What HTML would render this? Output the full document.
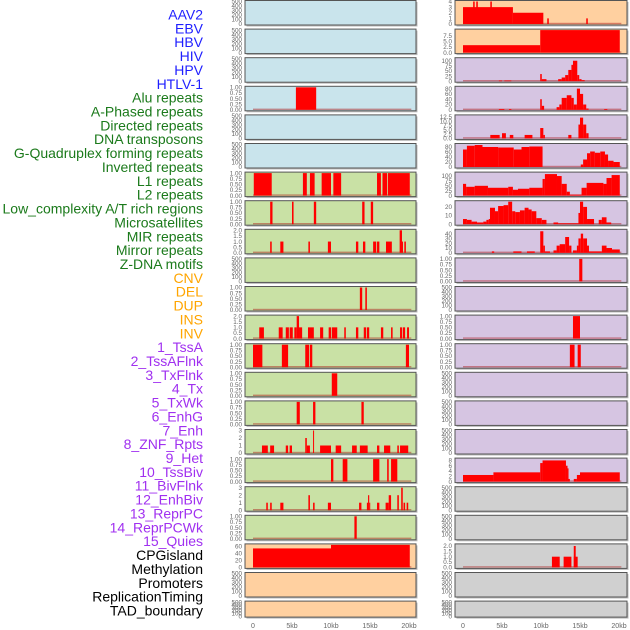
<!DOCTYPE html>
<html><head><meta charset="utf-8">
<style>
html,body{margin:0;padding:0;background:#fff;width:630px;height:630px;overflow:hidden}
svg{display:block;font-family:"Liberation Sans",sans-serif}
</style></head>
<body>
<svg id="chart" width="630" height="630" viewBox="0 0 630 630" xmlns="http://www.w3.org/2000/svg"></svg>
<script>
const trackLabels = ["AAV2","EBV","HBV","HIV","HPV","HTLV-1","Alu repeats","A-Phased repeats","Directed repeats","DNA transposons","G-Quadruplex forming repeats","Inverted repeats","L1 repeats","L2 repeats","Low_complexity A/T rich regions","Microsatellites","MIR repeats","Mirror repeats","Z-DNA motifs","CNV","DEL","DUP","INS","INV","1_TssA","2_TssAFlnk","3_TxFlnk","4_Tx","5_TxWk","6_EnhG","7_Enh","8_ZNF_Rpts","9_Het","10_TssBiv","11_BivFlnk","12_EnhBiv","13_ReprPC","14_ReprPCWk","15_Quies","CPGisland","Methylation","Promoters","ReplicationTiming","TAD_boundary"];
const labelGroups = ["v","v","v","v","v","v","r","r","r","r","r","r","r","r","r","r","r","r","r","s","s","s","s","s","c","c","c","c","c","c","c","c","c","c","c","c","c","c","c","k","k","k","k","k"];
const xTicks = [0,5,10,15,20];
const xTickLabels = ["0","5kb","10kb","15kb","20kb"];
const emptyTicks = [0,100,200,300,400,500];
const t01 = [0,0.25,0.5,0.75,1];

const leftBg = ["b","b","b","b","b","b","g","g","g","g","g","g","g","g","g","g","g","g","g","o","o","o"];
const leftMax = [500,500,500,1,500,500,1,1,2,500,1,2,1,1,1,3,1,3,1,64,500,500];
const leftTicks = [emptyTicks,emptyTicks,emptyTicks,t01,emptyTicks,emptyTicks,t01,t01,[0,0.5,1,1.5,2],emptyTicks,t01,[0,0.5,1,1.5,2],t01,t01,t01,[0,1,2,3],t01,[0,1,2,3],t01,[0,20,40,60],emptyTicks,emptyTicks];
const leftSeg = [
 [],[],[],
 [[5.5,8.1,1]],
 [],[],
 [[0.1,2.4,1],[6.4,6.9,1],[7.3,7.9,1],[8.8,10.0,1],[10.3,11.3,1],[15.9,16.4,1],[16.6,17.2,1],[17.3,20.1,1]],
 [[2.2,2.5,1],[5.0,5.2,1],[7.8,8.1,1],[14.0,14.3,1],[15.1,15.4,1]],
 [[2.2,2.4,1],[3.5,3.9,1],[7.1,7.3,1],[9.6,10.0,1],[13.2,13.5,1],[14.1,14.4,1],[15.4,15.8,1],[15.9,16.2,1],[17.05,17.8,1],[18.8,19.1,2],[19.1,19.2,1],[19.4,19.6,1]],
 [],
 [[13.7,14.0,1],[14.4,14.6,1]],
 [[0.8,1.4,1],[3.3,3.8,1],[4.2,4.6,1],[4.7,5.1,1],[5.3,5.6,1],[5.6,5.9,2],[5.9,6.3,1],[7.05,7.8,1],[8.6,9.0,1],[9.7,10.0,1],[10.1,10.8,1],[11.7,11.9,1],[13.2,13.5,1],[14.2,14.5,1],[14.6,14.9,1],[16.4,16.7,1],[17.7,17.9,1],[18.85,19.1,1],[19.2,19.5,1],[19.75,20.0,1]],
 [[0,1.2,1],[3.7,4.5,1],[6.7,7.2,1],[7.3,7.6,1],[19.6,20.0,1]],
 [[10.1,10.8,1]],
 [[5.6,6.0,1],[7.7,8.0,1],[13.9,14.2,1]],
 [[1.15,1.9,1],[2.2,2.7,1],[4.2,4.5,1],[4.7,5.0,1],[6.7,6.9,2],[6.9,7.3,1],[7.7,7.8,3],[8.6,10.0,1],[10.6,11.3,1],[12.7,13.3,1],[13.7,14.7,1],[15.9,16.2,1],[16.8,17.6,1],[18.5,18.7,1],[18.85,19.9,1]],
 [[10.0,10.3,1],[11.5,12.1,1],[15.4,16.2,1],[17.2,17.4,1],[17.7,18.5,1]],
 [[1.7,1.9,1],[2.2,2.4,1],[3.5,3.9,1],[7.1,7.3,2],[7.7,7.9,1],[9.6,10.0,1],[13.6,13.9,1],[14.6,14.75,1],[14.75,14.9,2],[14.9,15.0,1],[15.9,16.2,1],[17.0,17.4,1],[17.4,17.7,2],[18.5,18.7,2],[19.0,19.2,3],[19.3,19.5,1],[19.7,19.9,1]],
 [[13.0,13.3,1]],
 [[0,10,54],[10,20.1,64]],
 [],[]
];

const rightBg = ["o","o","p","p","p","p","p","p","p","p","p","p","p","p","p","p","p","y","y","y","y","y"];
const rightMax = [4,10,110,85,13,90,115,26,47,1,500,1,1,500,500,500,8.5,500,500,2.1,500,500];
const rightTicks = [[0,1,2,3,4],[0,2.5,5,7.5],[0,25,50,75,100],[0,20,40,60,80],[0,2.5,5,7.5,10,12.5],[0,20,40,60,80],[0,25,50,75,100],[0,10,20],[0,10,20,30,40],t01,emptyTicks,t01,t01,emptyTicks,emptyTicks,emptyTicks,[0,2,4,6,8],emptyTicks,emptyTicks,[0,0.5,1,1.5,2],emptyTicks,emptyTicks];
const rightSeg = [
 [[0,6.4,3],[6.4,10.3,2],[1.3,1.5,4],[1.7,1.9,4],[3.5,3.7,4],[10.8,11.0,1],[15.8,16.0,1]],
 [[0,9.9,3.3],[9.9,20.1,10]],
 [[4.6,5.0,3],[5.3,6.2,3],[9.9,10.1,35],[10.1,10.7,10],[12.2,12.65,10],[12.65,13.1,18],[13.1,13.5,30],[13.5,13.9,55],[13.9,14.1,80],[14.1,14.65,100],[14.65,14.9,30],[14.9,15.2,10],[15.2,15.6,5]],
 [[4.6,5.3,3],[5.9,6.2,3],[9.9,10.1,40],[10.1,10.4,15],[12.0,12.35,10],[12.35,12.65,20],[12.65,13.3,45],[13.3,13.9,55],[13.9,14.2,45],[14.2,14.6,20],[14.6,15.0,80],[15.0,15.4,60],[15.4,15.8,20],[15.8,16.1,5],[18.1,18.5,3]],
 [[3.5,4.7,2],[5.0,5.5,3],[6.0,6.45,2],[7.9,8.9,2],[9.9,10.3,6],[10.3,10.5,2],[13.5,13.9,2],[14.8,15.0,8],[15.0,15.4,12],[15.4,15.8,8],[15.8,16.1,3]],
 [[0,0.5,70],[0.5,1.5,85],[1.5,2.5,88],[2.5,4.5,80],[4.5,6.5,78],[6.5,7.5,70],[7.5,8.5,80],[8.5,10.2,82],[15.1,15.4,10],[15.4,15.9,30],[15.9,16.3,55],[16.3,16.9,62],[16.9,17.6,57],[17.6,18.2,62],[18.2,18.6,50],[18.6,19.3,25],[19.3,20.1,20]],
 [[0,0.4,60],[0.4,1.5,45],[1.5,3.2,50],[3.2,5.8,40],[5.8,6.4,45],[6.4,7.05,30],[7.05,8.5,35],[8.5,10.2,40],[10.2,10.5,85],[10.5,12.05,110],[12.05,12.65,100],[12.65,13.3,60],[13.3,13.7,20],[13.7,15.2,5],[15.2,15.85,40],[15.85,18.0,65],[18.0,18.4,60],[18.4,19.05,90],[19.05,20.1,105]],
 [[0,0.5,6],[0.5,1.1,5],[1.1,1.8,3],[1.8,2.6,2],[2.6,3.0,3],[3.0,3.3,5],[3.3,3.46,6],[3.46,4.1,19],[4.1,4.5,15],[4.5,5.2,21],[5.2,5.8,22],[5.8,6.3,26],[6.3,6.7,15],[6.7,7.3,14],[7.3,7.9,16],[7.9,8.4,19],[8.4,8.8,17],[8.8,9.4,15],[9.4,10.1,7],[10.1,10.7,5],[11.6,12.2,2],[12.2,14.8,1],[14.8,15.0,13],[15.0,15.4,26],[15.4,15.9,20],[15.9,16.8,6],[17.4,17.8,5],[17.8,18.4,8],[18.4,19.0,2]],
 [[3.7,4.0,3],[6.45,7.5,3],[8.2,9.2,3],[9.9,10.3,45],[10.3,10.5,15],[10.5,11.15,3],[11.6,12.0,5],[12.0,12.4,15],[12.4,13.1,18],[13.1,13.6,33],[13.6,13.9,15],[14.1,14.6,5],[14.6,14.8,15],[14.8,15.1,30],[15.1,15.4,40],[15.4,15.9,30],[15.9,16.15,15],[16.15,17.8,3],[17.8,18.4,15],[18.4,19.1,10],[19.1,20.1,7]],
 [[14.9,15.3,1]],
 [],
 [[14.1,15.0,1]],
 [[13.7,14.3,1],[14.7,15.1,1]],
 [],[],[],
 [[0,3.9,2.5],[3.9,9.9,3.5],[9.9,10.2,7],[10.2,13.2,8],[13.2,13.4,6],[13.4,13.5,5],[13.5,13.7,1],[14.2,14.6,1],[14.6,15.0,2.5],[15.0,20.1,3.5]],
 [],[],
 [[11.4,12.4,1],[12.9,13.9,1],[14.2,14.7,1],[14.2,14.45,2]],
 [],[]
];

const NS = "http://www.w3.org/2000/svg";
const svg = document.getElementById('chart');
const bgColors = {b:"#c9e4ec",g:"#c9e1a5",o:"#ffd0a0",p:"#d6c5e2",y:"#d0d0d0"};
const labelColors = {v:"#1f1fff",r:"#1b7a1b",s:"#ffa500",c:"#a030f0",k:"#000000"};
function mk(tag, attrs){const e=document.createElementNS(NS,tag);for(const k in attrs)e.setAttribute(k,attrs[k]);return e;}
function decs(v){const s=String(v);const p=s.indexOf('.');return p<0?0:s.length-p-1;}

trackLabels.forEach((t,i)=>{
  const el=mk('text',{x:203,y:19.5+i*13.86,'text-anchor':'end','font-size':'14',fill:labelColors[labelGroups[i]]});
  
  
  el.textContent=t; svg.appendChild(el);
});

function drawColumn(x0, x1, kbX0, bgs, maxes, ticks, segs, col){
  const kbScale = 7.8;
  const xs = kb => kbX0 + kb*kbScale;
  bgs.forEach((bg,i)=>{
    const top = i*28.6+0.5;
    const h = i===21 ? 16 : 24.5;
    const g = mk('g',{});
    
    
    svg.appendChild(g);
    g.appendChild(mk('rect',{x:x0+1.5,y:top+1.5,width:x1-x0,height:h,fill:"#bbb"}));
    const r = mk('rect',{x:x0,y:top,width:x1-x0,height:h,fill:bgColors[bg],stroke:"#555","stroke-width":1});
    
    
    g.appendChild(r);
    const ymax = maxes[i];
    const yb = top+h-1, yt = top+1;
    const ys = v => yb - (v/ymax)*(yb-yt);
    const nd = Math.max(...ticks[i].map(decs));
    ticks[i].forEach(tv=>{
      const tx = mk('text',{x:x0-3,y:ys(tv)+2.2,'text-anchor':'end','font-size':'6.3',fill:"#666"});
      
      
      tx.textContent = tv.toFixed(nd);
      g.appendChild(tx);
    });
    const s = segs[i];
    if(s.length){
      const base = mk('rect',{x:xs(0),y:yb-1.2,width:xs(20.3)-xs(0),height:1.4,fill:"rgba(170,20,20,0.45)"});
      
      
      g.appendChild(base);
      s.forEach(d=>{
        const yv = Math.max(ys(d[2]), top+0.5);
        const b = mk('rect',{x:xs(d[0]),y:yv,width:Math.max(xs(d[1])-xs(d[0]),1),height:yb-yv,fill:"#ff0000"});
        
        
        g.appendChild(b);
      });
    }
  });
  xTicks.forEach((k,j)=>{
    const t = mk('text',{x:xs(k),y:628,'text-anchor':'middle','font-size':'7',fill:"#666"});
    
    
    t.textContent = xTickLabels[j]; svg.appendChild(t);
  });
}
drawColumn(245,416,253,leftBg,leftMax,leftTicks,leftSeg,'left');
drawColumn(455,627,463,rightBg,rightMax,rightTicks,rightSeg,'right');
</script>
</body></html>
